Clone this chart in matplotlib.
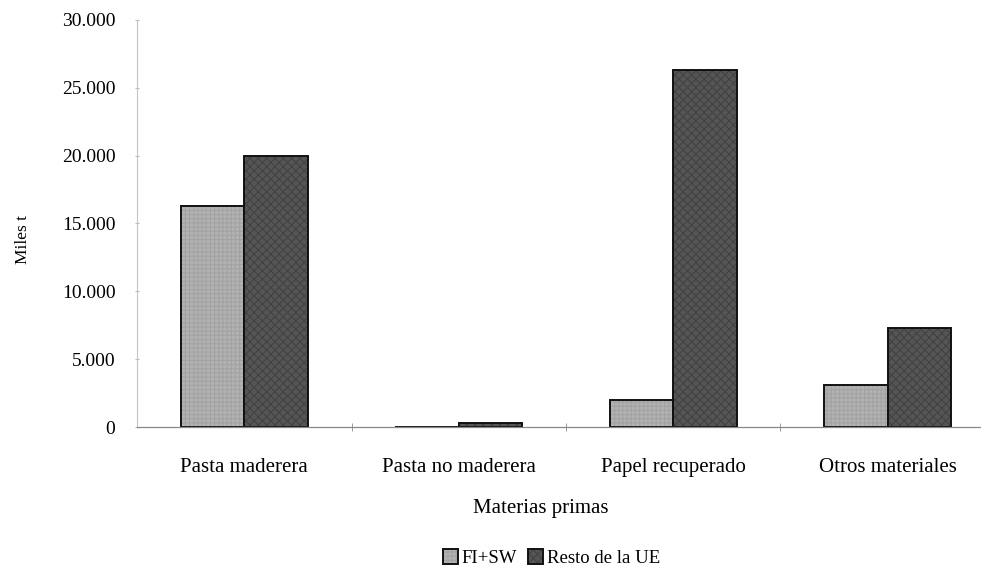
import numpy as np
import matplotlib.pyplot as plt

# Datos (miles t)
categorias = ['Pasta maderera', 'Pasta no maderera', 'Papel recuperado', 'Otros materiales']
fi_sw = [16300, 0, 2000, 3100]
resto_ue = [20000, 300, 26300, 7300]
yticks = [0, 5000, 10000, 15000, 20000, 25000, 30000]
ytick_labels = ['0', '5.000', '10.000', '15.000', '20.000', '25.000', '30.000']

plt.rcParams['font.family'] = ['Liberation Serif', 'DejaVu Serif']
plt.rcParams['hatch.linewidth'] = 0.8


def main():
    fig = plt.figure(figsize=(9.81, 5.67), dpi=100)
    ax = fig.add_axes([137 / 981, 1 - 427 / 567, 858 / 981, 407 / 567])

    x = np.arange(len(categorias))
    w = 0.295
    b1 = ax.bar(x - w / 2, fi_sw, w, color='#b2b2b2', edgecolor='#111111',
                linewidth=1.4, hatch='++++', label='FI+SW')
    b2 = ax.bar(x + w / 2, resto_ue, w, color='#555555', edgecolor='#111111',
                linewidth=1.4, hatch='xxxx', label='Resto de la UE')
    for p in b1:
        p._hatch_color = (0.64, 0.64, 0.64, 1.0)
    for p in b2:
        p._hatch_color = (0.26, 0.26, 0.26, 1.0)

    ax.set_xlim(-0.5, len(categorias) - 0.5)
    ax.set_ylim(0, 30000)
    ax.set_yticks(yticks)
    ax.set_yticklabels(ytick_labels, fontsize=14)
    ax.set_xticks(x)
    ax.set_xticklabels(categorias, fontsize=15)
    ax.tick_params(axis='x', length=0, pad=22)
    ax.tick_params(axis='y', length=3, direction='inout', color='#bbbbbb', pad=14)
    # marcas entre categorias
    ax.set_xticks(np.arange(0.5, len(categorias) - 0.5, 1), minor=True)
    ax.tick_params(axis='x', which='minor', length=6, direction='inout', color='#888888')

    for s in ['top', 'right']:
        ax.spines[s].set_visible(False)
    ax.spines['left'].set_color('#c4c4c4')
    ax.spines['bottom'].set_color('#888888')
    ax.spines['left'].set_linewidth(0.8)
    ax.spines['bottom'].set_linewidth(0.9)

    ax.set_ylabel('Miles t', fontsize=12.5)
    ax.yaxis.set_label_coords(-0.124, 0.46)
    ax.set_xlabel('Materias primas', fontsize=15)
    ax.xaxis.set_label_coords(0.47, -0.178)

    fig.legend(loc='lower center', bbox_to_anchor=(0.562, -0.03), ncol=2, frameon=False,
               fontsize=13.5, handlelength=0.8, handleheight=0.8, handletextpad=0.2,
               columnspacing=0.6)

    plt.savefig('out.png', dpi=100)


if __name__ == '__main__':
    main()
